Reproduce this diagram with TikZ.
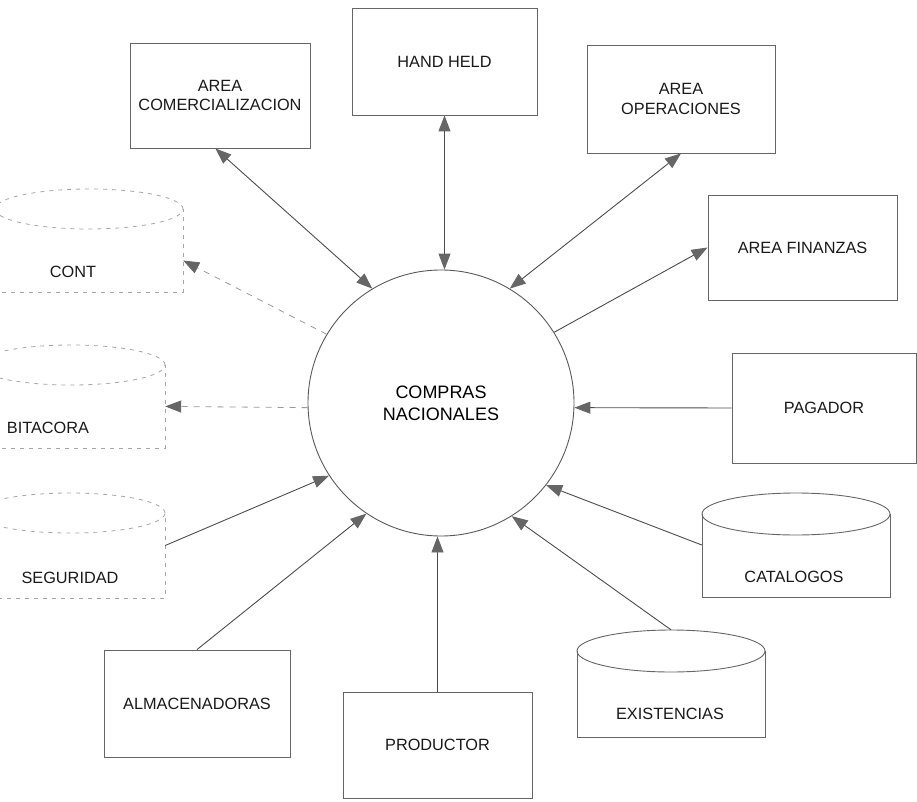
\documentclass[tikz,border=0pt]{standalone}
\usepackage{fontspec}
\setmainfont{Liberation Sans}
\usetikzlibrary{arrows.meta}
\tikzset{
  boxline/.style={draw=black!60, line width=0.9pt},
  faintline/.style={draw=black!35, line width=0.8pt, dash pattern=on 4pt off 5pt},
  procbox/.style={boxline, rectangle, inner sep=0pt},
  lbl/.style={font=\fontsize{16.3}{19.5}\selectfont, align=center, text=black!90, inner sep=1pt},
  conn/.style={draw=black!70, line width=0.9pt},
  faintconn/.style={draw=black!40, line width=0.8pt, dash pattern=on 6pt off 6pt},
  Tri/.tip={Triangle[length=16pt,width=12pt,color=black!60]}
}
% name, cx, cy, rx, ry, bottom, textx, texty, text
\newcommand\dbstore[9]{%
  \draw[#1style] ({#2-#4},#3) -- ({#2-#4},#6) -- ({#2+#4},#6) -- ({#2+#4},#3);
  \draw[#1style] (#2,#3) ellipse [x radius=#4pt, y radius=#5pt];
  \node[inner sep=0pt, minimum width={2*#4*1pt}, minimum height={(#6-#3+#5)*1pt}] (#1) at (#2,{(#3-#5+#6)/2}) {};
  \node[lbl] (#1-t) at (#7,#8) {#9};
}
\begin{document}
\begin{tikzpicture}[x=1pt,y=-1pt]
\useasboundingbox (0,0) rectangle (917,802);
\clip (0,0) rectangle (917,802);
\tikzset{
  contstyle/.style={faintline}, bitstyle/.style={faintline}, segstyle/.style={faintline},
  catstyle/.style={boxline}, exstyle/.style={boxline}
}
% central process
\node[circle, draw=black!65, line width=0.9pt, minimum size=266pt, inner sep=0pt,
      font=\fontsize{18}{22}\selectfont, align=center] (c) at (441,403) {COMPRAS\\NACIONALES};

% rectangles
\node[procbox, minimum width=180pt, minimum height=105pt, lbl] (com) at (220,95.5) {AREA\\COMERCIALIZACION};
\node[procbox, minimum width=185pt, minimum height=107pt, lbl] (hh) at (444.5,61.5) {HAND HELD};
\node[procbox, minimum width=188pt, minimum height=108pt, lbl] (op) at (681,99) {AREA\\OPERACIONES};
\node[procbox, minimum width=189pt, minimum height=105pt, lbl] (fin) at (802.5,247.5) {AREA FINANZAS};
\node[procbox, minimum width=184pt, minimum height=110pt, lbl] (pag) at (824,408) {PAGADOR};
\node[procbox, minimum width=189pt, minimum height=106pt, lbl] (prod) at (437.5,745) {PRODUCTOR};
\node[procbox, minimum width=186pt, minimum height=107pt, lbl] (alm) at (197,703.5) {ALMACENADORAS};

% data stores
\dbstore{cont}{89}{209}{94}{20}{292}{73}{272}{CONT}
\dbstore{bit}{71}{365}{94}{20}{448}{48}{428}{BITACORA}
\dbstore{seg}{70}{513}{95}{20}{598}{70}{578}{SEGURIDAD}
\dbstore{cat}{796}{514}{94}{21}{597}{794}{577}{CATALOGOS}
\dbstore{ex}{671}{651}{94}{21}{737}{670}{714}{EXISTENCIAS}

% connectors
\draw[conn, Tri-Tri] (com.-95) -- (c.121);
\draw[conn, Tri-Tri] (hh.south) -- (hh.south |- c.north);
\draw[conn, Tri-Tri] (op.south) -- (c.59);
\draw[conn, -Tri] (c.32) -- (fin.west);
\draw[faintconn, -Tri] (c.149) -- (cont.-12);
\draw[faintconn, -Tri] (c.182) -- (bit.-6);
\draw[conn, -Tri] (pag.west) -- (c.-2);
\draw[conn, -Tri] (cat.west) -- (c.-38);
\draw[conn, -Tri] (ex.north) -- (c.-58);
\draw[conn, -Tri] (prod.north) -- (prod.north |- c.south);
\draw[conn, -Tri] (seg.east) -- (c.213);
\draw[conn, -Tri] (alm.north) -- (c.236);
\end{tikzpicture}
\end{document}
